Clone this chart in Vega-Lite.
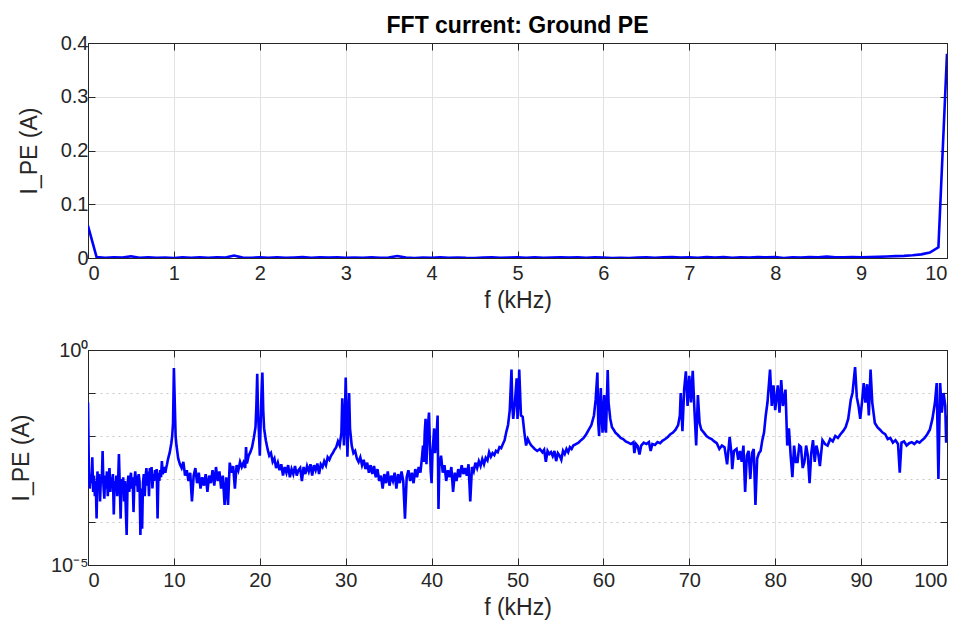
{
"$schema": "https://vega.github.io/schema/vega-lite/v6.json",
"padding": {"left": 9, "top": 14, "right": 20, "bottom": 5},
"background": "white",
"config": {
  "font": "Liberation Sans",
  "view": {"stroke": "#262626", "strokeWidth": 1},
  "axis": {"labelFontSize": 20, "titleFontSize": 23, "labelColor": "#262626", "titleColor": "#262626", "titleFontWeight": "normal", "domain": true, "domainWidth": 1, "domainOpacity": 1, "domainColor": "#262626", "tickColor": "#262626", "tickSize": -7, "tickWidth": 1, "labelPadding": 8, "gridColor": "#e2e2e2", "gridOpacity": 1, "labelFont": "Liberation Sans", "titleFont": "Liberation Sans"},
  "title": {"fontSize": 23, "fontWeight": "bold", "color": "#000000", "font": "Liberation Sans", "offset": -5}
},
"data": {"values": [
{"f":0,"I":0.06},{"f":0.1,"I":0.0016},{"f":0.2,"I":0.0006},{"f":0.3,"I":0.0012},{"f":0.4,"I":0.0008},{"f":0.5,"I":0.0032},{"f":0.6,"I":0.0005},{"f":0.7,"I":0.0012},{"f":0.8,"I":0.0004},{"f":0.9,"I":0.0009},
{"f":1.0,"I":0.00012},{"f":1.1,"I":0.0015},{"f":1.2,"I":0.0006},{"f":1.3,"I":0.0013},{"f":1.4,"I":0.0003},{"f":1.5,"I":0.0011},{"f":1.6,"I":0.0008},{"f":1.7,"I":0.0045},{"f":1.8,"I":0.0007},{"f":1.9,"I":0.00035},
{"f":2.0,"I":0.0012},{"f":2.1,"I":0.0006},{"f":2.2,"I":0.0015},{"f":2.3,"I":0.0004},{"f":2.4,"I":0.001},{"f":2.5,"I":0.0018},{"f":2.6,"I":0.0005},{"f":2.7,"I":0.0011},{"f":2.8,"I":0.0008},{"f":2.9,"I":0.0013},
{"f":3.0,"I":0.00015},{"f":3.1,"I":0.0009},{"f":3.2,"I":0.0006},{"f":3.3,"I":0.0012},{"f":3.4,"I":0.0004},{"f":3.5,"I":0.0008},{"f":3.6,"I":0.0038},{"f":3.7,"I":0.0007},{"f":3.8,"I":0.00012},{"f":3.9,"I":0.001},
{"f":4.0,"I":0.0005},{"f":4.1,"I":0.0011},{"f":4.2,"I":0.0003},{"f":4.3,"I":0.0009},{"f":4.4,"I":0.0002},{"f":4.5,"I":0.00005},{"f":4.6,"I":0.0007},{"f":4.7,"I":0.0012},{"f":4.8,"I":0.0005},{"f":4.9,"I":0.0009},
{"f":5.0,"I":0.0014},{"f":5.1,"I":0.0006},{"f":5.2,"I":0.0011},{"f":5.3,"I":0.00017},{"f":5.4,"I":0.0009},{"f":5.5,"I":0.0015},{"f":5.6,"I":0.0007},{"f":5.7,"I":0.0012},{"f":5.8,"I":0.0005},{"f":5.9,"I":0.0013},
{"f":6.0,"I":0.0009},{"f":6.1,"I":0.00005},{"f":6.2,"I":0.0006},{"f":6.3,"I":0.00007},{"f":6.4,"I":0.0008},{"f":6.5,"I":0.0013},{"f":6.6,"I":0.0004},{"f":6.7,"I":0.0011},{"f":6.8,"I":0.0018},{"f":6.9,"I":0.0007},
{"f":7.0,"I":0.0015},{"f":7.1,"I":0.0004},{"f":7.2,"I":0.0018},{"f":7.3,"I":0.001},{"f":7.4,"I":0.0019},{"f":7.5,"I":0.0006},{"f":7.6,"I":0.0013},{"f":7.7,"I":0.0009},{"f":7.8,"I":0.0016},{"f":7.9,"I":0.0011},
{"f":8.0,"I":0.0017},{"f":8.1,"I":0.00012},{"f":8.2,"I":0.0014},{"f":8.3,"I":0.0009},{"f":8.4,"I":0.0016},{"f":8.5,"I":0.0011},{"f":8.6,"I":0.0026},{"f":8.7,"I":0.0013},{"f":8.8,"I":0.0015},{"f":8.9,"I":0.0019},
{"f":9.0,"I":0.0014},{"f":9.1,"I":0.0018},{"f":9.2,"I":0.0022},{"f":9.3,"I":0.0028},{"f":9.4,"I":0.0034},{"f":9.5,"I":0.004},{"f":9.6,"I":0.0052},{"f":9.7,"I":0.0068},{"f":9.8,"I":0.01},{"f":9.9,"I":0.02},
{"f":10.0,"I":0.38},{"f":10.1,"I":0.06},{"f":10.2,"I":0.01},{"f":10.3,"I":0.006},{"f":10.5,"I":0.003},{"f":10.7,"I":0.0022},{"f":10.9,"I":0.0018},
{"f":11.1,"I":0.0025},{"f":11.3,"I":0.0012},{"f":11.5,"I":0.0016},{"f":11.7,"I":0.0009},{"f":11.9,"I":0.0014},{"f":12.1,"I":0.0003},{"f":12.3,"I":0.0012},{"f":12.5,"I":0.0018},{"f":12.7,"I":0.0008},{"f":12.9,"I":0.0014},
{"f":13.1,"I":0.0006},{"f":13.3,"I":0.0011},{"f":13.5,"I":0.0007},{"f":13.7,"I":0.0013},{"f":13.9,"I":0.0005},{"f":14.1,"I":0.0012},{"f":14.3,"I":0.0008},{"f":14.5,"I":0.0016},{"f":14.7,"I":0.0007},{"f":14.9,"I":0.0019},
{"f":15.1,"I":0.0009},{"f":15.3,"I":0.0015},{"f":15.5,"I":0.0006},{"f":15.7,"I":0.0012},{"f":15.9,"I":0.00025},{"f":16.1,"I":0.0011},{"f":16.3,"I":0.00025},{"f":16.5,"I":0.0024},{"f":16.7,"I":0.0014},{"f":16.9,"I":0.002},
{"f":17.1,"I":0.0006},{"f":17.3,"I":0.0021},{"f":17.5,"I":0.0016},{"f":17.7,"I":0.0025},{"f":17.9,"I":0.0019},{"f":18.1,"I":0.0024},{"f":18.3,"I":0.0018},{"f":18.4,"I":0.0055},{"f":18.5,"I":0.0023},{"f":18.7,"I":0.0035},{"f":18.9,"I":0.0042},
{"f":19.1,"I":0.0055},{"f":19.3,"I":0.009},{"f":19.5,"I":0.016},{"f":19.6,"I":0.05},{"f":19.7,"I":0.28},{"f":19.8,"I":0.03},{"f":19.9,"I":0.012},{"f":20.0,"I":0.0035},{"f":20.1,"I":0.02},{"f":20.2,"I":0.1},{"f":20.3,"I":0.3},{"f":20.4,"I":0.04},{"f":20.5,"I":0.015},{"f":20.7,"I":0.008},{"f":20.9,"I":0.005},
{"f":21.1,"I":0.0035},{"f":21.3,"I":0.004},{"f":21.5,"I":0.0025},{"f":21.7,"I":0.003},{"f":21.9,"I":0.0018},{"f":22.1,"I":0.0024},{"f":22.3,"I":0.0016},{"f":22.5,"I":0.0022},{"f":22.7,"I":0.0012},{"f":22.9,"I":0.0019},
{"f":23.1,"I":0.0014},{"f":23.3,"I":0.0021},{"f":23.5,"I":0.0011},{"f":23.7,"I":0.0017},{"f":23.9,"I":0.0013},{"f":24.1,"I":0.002},{"f":24.3,"I":0.0012},{"f":24.5,"I":0.0016},{"f":24.7,"I":0.0018},{"f":24.9,"I":0.0009},
{"f":25.1,"I":0.0019},{"f":25.3,"I":0.0013},{"f":25.5,"I":0.002},{"f":25.7,"I":0.0015},{"f":25.9,"I":0.0022},{"f":26.1,"I":0.0012},{"f":26.3,"I":0.0021},{"f":26.5,"I":0.0016},{"f":26.7,"I":0.0023},{"f":26.9,"I":0.0013},
{"f":27.1,"I":0.0022},{"f":27.3,"I":0.0019},{"f":27.5,"I":0.0026},{"f":27.7,"I":0.0021},{"f":27.9,"I":0.0032},{"f":28.1,"I":0.0028},{"f":28.3,"I":0.0035},{"f":28.5,"I":0.004},{"f":28.7,"I":0.0048},{"f":28.9,"I":0.0055},
{"f":29.1,"I":0.0075},{"f":29.3,"I":0.006},{"f":29.5,"I":0.012},{"f":29.6,"I":0.075},{"f":29.7,"I":0.02},{"f":29.8,"I":0.006},{"f":29.9,"I":0.025},{"f":30.0,"I":0.23},{"f":30.1,"I":0.03},{"f":30.2,"I":0.0033},{"f":30.3,"I":0.02},{"f":30.4,"I":0.1},{"f":30.5,"I":0.015},{"f":30.7,"I":0.006},{"f":30.9,"I":0.004},
{"f":31.1,"I":0.0045},{"f":31.3,"I":0.003},{"f":31.5,"I":0.0025},{"f":31.7,"I":0.0032},{"f":31.9,"I":0.0021},{"f":32.1,"I":0.0028},{"f":32.3,"I":0.0017},{"f":32.5,"I":0.0024},{"f":32.7,"I":0.0014},{"f":32.9,"I":0.0021},
{"f":33.1,"I":0.0013},{"f":33.3,"I":0.002},{"f":33.5,"I":0.0011},{"f":33.7,"I":0.0017},{"f":33.9,"I":0.0009},{"f":34.1,"I":0.0012},{"f":34.3,"I":0.0006},{"f":34.5,"I":0.0013},{"f":34.7,"I":0.0008},{"f":34.9,"I":0.0015},
{"f":35.1,"I":0.0007},{"f":35.3,"I":0.0012},{"f":35.5,"I":0.0009},{"f":35.7,"I":0.0014},{"f":35.9,"I":0.0006},{"f":36.1,"I":0.0013},{"f":36.3,"I":0.0008},{"f":36.5,"I":0.0015},{"f":36.7,"I":0.0009},{"f":36.9,"I":0.00012},
{"f":37.1,"I":0.0011},{"f":37.3,"I":0.0016},{"f":37.5,"I":0.0009},{"f":37.7,"I":0.0014},{"f":37.9,"I":0.0008},{"f":38.1,"I":0.0017},{"f":38.3,"I":0.0011},{"f":38.5,"I":0.0019},{"f":38.7,"I":0.0014},{"f":38.9,"I":0.0035},
{"f":39.0,"I":0.006},{"f":39.1,"I":0.0025},{"f":39.2,"I":0.012},{"f":39.3,"I":0.025},{"f":39.4,"I":0.0022},{"f":39.5,"I":0.008},{"f":39.6,"I":0.02},{"f":39.7,"I":0.035},{"f":39.8,"I":0.006},{"f":39.9,"I":0.0015},
{"f":40.0,"I":0.0008},{"f":40.1,"I":0.004},{"f":40.3,"I":0.015},{"f":40.4,"I":0.004},{"f":40.6,"I":0.012},{"f":40.7,"I":0.03},{"f":40.8,"I":0.0002},{"f":40.9,"I":0.002},
{"f":41.1,"I":0.0035},{"f":41.3,"I":0.0014},{"f":41.5,"I":0.0021},{"f":41.7,"I":0.0009},{"f":41.9,"I":0.0016},{"f":42.1,"I":0.0011},{"f":42.3,"I":0.0019},{"f":42.5,"I":0.0005},{"f":42.7,"I":0.0014},{"f":42.9,"I":0.0009},
{"f":43.1,"I":0.0017},{"f":43.3,"I":0.0011},{"f":43.5,"I":0.0021},{"f":43.7,"I":0.0013},{"f":43.9,"I":0.0018},{"f":44.1,"I":0.0012},{"f":44.3,"I":0.0022},{"f":44.5,"I":0.0003},{"f":44.7,"I":0.0019},{"f":44.9,"I":0.0015},
{"f":45.1,"I":0.0024},{"f":45.3,"I":0.0018},{"f":45.5,"I":0.0026},{"f":45.7,"I":0.002},{"f":45.9,"I":0.0029},{"f":46.1,"I":0.0022},{"f":46.3,"I":0.0031},{"f":46.5,"I":0.0027},{"f":46.7,"I":0.0042},{"f":46.9,"I":0.0033},
{"f":47.1,"I":0.004},{"f":47.3,"I":0.0036},{"f":47.5,"I":0.0045},{"f":47.7,"I":0.0042},{"f":47.9,"I":0.0055},{"f":48.1,"I":0.0052},{"f":48.3,"I":0.0065},{"f":48.5,"I":0.008},{"f":48.7,"I":0.0125},{"f":48.9,"I":0.018},
{"f":49.1,"I":0.04},{"f":49.3,"I":0.35},{"f":49.4,"I":0.05},{"f":49.5,"I":0.025},{"f":49.7,"I":0.06},{"f":49.9,"I":0.22},{"f":50.0,"I":0.025},{"f":50.1,"I":0.06},{"f":50.2,"I":0.35},{"f":50.4,"I":0.03},{"f":50.6,"I":0.028},{"f":50.8,"I":0.012},
{"f":51.0,"I":0.006},{"f":51.2,"I":0.0085},{"f":51.4,"I":0.007},{"f":51.6,"I":0.006},{"f":51.8,"I":0.0055},{"f":52.0,"I":0.005},{"f":52.3,"I":0.0045},{"f":52.6,"I":0.005},{"f":52.9,"I":0.0042},{"f":53.1,"I":0.0048},
{"f":53.3,"I":0.0025},{"f":53.5,"I":0.0045},{"f":53.7,"I":0.0038},{"f":53.9,"I":0.0042},{"f":54.1,"I":0.0034},{"f":54.3,"I":0.0045},{"f":54.5,"I":0.0026},{"f":54.7,"I":0.004},{"f":54.9,"I":0.0035},{"f":55.1,"I":0.0028},
{"f":55.3,"I":0.0045},{"f":55.5,"I":0.0038},{"f":55.7,"I":0.005},{"f":55.9,"I":0.0042},{"f":56.1,"I":0.0055},{"f":56.3,"I":0.005},{"f":56.5,"I":0.006},{"f":56.8,"I":0.0065},{"f":57.1,"I":0.007},{"f":57.4,"I":0.008},
{"f":57.7,"I":0.009},{"f":58.0,"I":0.011},{"f":58.3,"I":0.014},{"f":58.6,"I":0.018},{"f":58.9,"I":0.03},{"f":59.1,"I":0.07},{"f":59.3,"I":0.3},{"f":59.4,"I":0.02},{"f":59.5,"I":0.01},{"f":59.6,"I":0.05},
{"f":59.7,"I":0.13},{"f":59.8,"I":0.03},{"f":59.9,"I":0.012},{"f":60.0,"I":0.04},{"f":60.1,"I":0.09},{"f":60.2,"I":0.015},{"f":60.3,"I":0.012},{"f":60.4,"I":0.06},{"f":60.5,"I":0.34},{"f":60.6,"I":0.06},
{"f":60.8,"I":0.025},{"f":61.0,"I":0.016},{"f":61.2,"I":0.014},{"f":61.4,"I":0.012},{"f":61.6,"I":0.011},{"f":61.8,"I":0.01},{"f":62.0,"I":0.009},{"f":62.3,"I":0.0085},{"f":62.6,"I":0.0075},{"f":62.9,"I":0.007},
{"f":63.2,"I":0.0065},{"f":63.5,"I":0.0072},{"f":63.6,"I":0.004},{"f":63.8,"I":0.0065},{"f":64.0,"I":0.0058},{"f":64.2,"I":0.0037},{"f":64.4,"I":0.006},{"f":64.7,"I":0.007},{"f":65.0,"I":0.0065},{"f":65.3,"I":0.0072},
{"f":65.5,"I":0.0045},{"f":65.7,"I":0.0065},{"f":66.0,"I":0.0062},{"f":66.3,"I":0.0072},{"f":66.6,"I":0.0068},{"f":66.9,"I":0.0078},{"f":67.2,"I":0.0085},{"f":67.5,"I":0.0095},{"f":67.8,"I":0.011},{"f":68.1,"I":0.012},
{"f":68.4,"I":0.014},{"f":68.7,"I":0.018},{"f":68.9,"I":0.03},{"f":69.0,"I":0.1},{"f":69.2,"I":0.013},{"f":69.4,"I":0.12},{"f":69.6,"I":0.32},{"f":69.8,"I":0.05},{"f":70.0,"I":0.25},{"f":70.2,"I":0.06},
{"f":70.4,"I":0.33},{"f":70.6,"I":0.04},{"f":70.8,"I":0.006},{"f":71.0,"I":0.09},{"f":71.2,"I":0.02},{"f":71.4,"I":0.014},{"f":71.7,"I":0.012},{"f":72.0,"I":0.01},{"f":72.3,"I":0.009},{"f":72.6,"I":0.0085},
{"f":72.9,"I":0.0075},{"f":73.2,"I":0.0068},{"f":73.5,"I":0.005},{"f":73.8,"I":0.006},{"f":74.1,"I":0.0055},{"f":74.4,"I":0.0022},{"f":74.7,"I":0.0095},{"f":74.9,"I":0.004},{"f":75.0,"I":0.0017},{"f":75.2,"I":0.0045},
{"f":75.5,"I":0.005},{"f":75.7,"I":0.0028},{"f":75.9,"I":0.0045},{"f":76.1,"I":0.0025},{"f":76.3,"I":0.006},{"f":76.5,"I":0.0005},{"f":76.7,"I":0.0035},{"f":76.9,"I":0.0045},{"f":77.1,"I":0.001},{"f":77.3,"I":0.004},
{"f":77.5,"I":0.005},{"f":77.7,"I":0.00025},{"f":77.9,"I":0.003},{"f":78.1,"I":0.004},{"f":78.3,"I":0.0045},{"f":78.5,"I":0.008},{"f":78.7,"I":0.012},{"f":78.9,"I":0.03},{"f":79.1,"I":0.06},{"f":79.4,"I":0.35},
{"f":79.6,"I":0.05},{"f":79.8,"I":0.15},{"f":80.0,"I":0.04},{"f":80.3,"I":0.15},{"f":80.5,"I":0.035},{"f":80.7,"I":0.2},{"f":80.9,"I":0.05},{"f":81.2,"I":0.12},{"f":81.4,"I":0.006},{"f":81.6,"I":0.015},
{"f":81.8,"I":0.0035},{"f":82.0,"I":0.0011},{"f":82.2,"I":0.006},{"f":82.4,"I":0.0025},{"f":82.6,"I":0.0025},{"f":82.8,"I":0.006},{"f":83.0,"I":0.0055},{"f":83.2,"I":0.0018},{"f":83.4,"I":0.0025},{"f":83.6,"I":0.006},
{"f":83.8,"I":0.0035},{"f":84.0,"I":0.0008},{"f":84.2,"I":0.004},{"f":84.4,"I":0.008},{"f":84.6,"I":0.0025},{"f":84.8,"I":0.006},{"f":85.0,"I":0.004},{"f":85.2,"I":0.002},{"f":85.5,"I":0.008},{"f":85.8,"I":0.0065},
{"f":86.1,"I":0.006},{"f":86.4,"I":0.0085},{"f":86.7,"I":0.0075},{"f":87.0,"I":0.01},{"f":87.3,"I":0.009},{"f":87.6,"I":0.011},{"f":87.9,"I":0.013},{"f":88.2,"I":0.016},{"f":88.5,"I":0.025},{"f":88.8,"I":0.07},
{"f":89.0,"I":0.1},{"f":89.3,"I":0.4},{"f":89.5,"I":0.08},{"f":89.7,"I":0.05},{"f":89.9,"I":0.025},{"f":90.1,"I":0.06},{"f":90.3,"I":0.17},{"f":90.5,"I":0.06},{"f":90.7,"I":0.16},{"f":90.9,"I":0.03},
{"f":91.1,"I":0.35},{"f":91.3,"I":0.06},{"f":91.6,"I":0.02},{"f":91.9,"I":0.016},{"f":92.2,"I":0.014},{"f":92.5,"I":0.012},{"f":92.8,"I":0.011},{"f":93.1,"I":0.0085},{"f":93.4,"I":0.009},{"f":93.7,"I":0.007},
{"f":94.0,"I":0.008},{"f":94.3,"I":0.0065},{"f":94.5,"I":0.0014},{"f":94.7,"I":0.007},{"f":95.0,"I":0.0075},{"f":95.3,"I":0.006},{"f":95.6,"I":0.0068},{"f":95.9,"I":0.0072},{"f":96.2,"I":0.0065},{"f":96.5,"I":0.0075},
{"f":96.8,"I":0.007},{"f":97.1,"I":0.008},{"f":97.4,"I":0.009},{"f":97.7,"I":0.011},{"f":98.0,"I":0.014},{"f":98.3,"I":0.025},{"f":98.6,"I":0.06},{"f":98.8,"I":0.17},{"f":99.0,"I":0.001},{"f":99.2,"I":0.17},
{"f":99.4,"I":0.035},{"f":99.6,"I":0.1},{"f":99.8,"I":0.05},{"f":99.9,"I":0.007},{"f":100.0,"I":0.03}
]},
"spacing": 26,
"vconcat": [
  {
    "title": "FFT current: Ground PE",
    "width": 859, "height": 215,
    "transform": [{"filter": "datum.f <= 10"}],
    "layer": [
      {
        "mark": {"type": "line", "color": "#0000ff", "strokeWidth": 2.6, "clip": true},
        "encoding": {
          "x": {"field": "f", "type": "quantitative", "scale": {"domain": [0, 10], "nice": false},
                "axis": {"values": [0,1,2,3,4,5,6,7,8,9,10], "format": "d", "title": "f (kHz)", "titlePadding": 6, "labelPadding": 12,
                         "gridOpacity": {"condition": {"test": "datum.value >= 10 || datum.value <= 0", "value": 0}, "value": 1}}},
          "y": {"field": "I", "type": "quantitative", "scale": {"domain": [0, 0.4], "nice": false},
                "axis": {"values": [0, 0.1, 0.2, 0.3, 0.4], "format": "~g", "title": "I_PE (A)", "titlePadding": 19, "labelPadding": 7,
                         "gridOpacity": {"condition": {"test": "datum.value >= 0.4 || datum.value <= 0", "value": 0}, "value": 1}}}
        }
      },
      {
        "mark": {"type": "line", "opacity": 0},
        "encoding": {
          "x": {"field": "f", "type": "quantitative", "scale": {"domain": [0, 10], "nice": false},
                "axis": {"orient": "top", "values": [0,1,2,3,4,5,6,7,8,9,10], "labels": false, "title": null, "grid": false}},
          "y": {"field": "I", "type": "quantitative", "scale": {"domain": [0, 0.4], "nice": false},
                "axis": {"orient": "right", "values": [0, 0.1, 0.2, 0.3, 0.4], "labels": false, "title": null, "grid": false}}
        }
      }
    ],
    "resolve": {"axis": {"x": "independent", "y": "independent"}}
  },
  {
    "width": 859, "height": 215,
    "layer": [
      {
        "mark": {"type": "line", "color": "#0000ff", "strokeWidth": 2.6, "clip": true},
        "encoding": {
          "x": {"field": "f", "type": "quantitative", "scale": {"domain": [0, 100], "nice": false},
                "axis": {"values": [0,10,20,30,40,50,60,70,80,90,100], "format": "d", "title": "f (kHz)", "titlePadding": 6, "labelPadding": 12,
                         "gridOpacity": {"condition": {"test": "datum.value >= 100 || datum.value <= 0", "value": 0}, "value": 1}}},
          "y": {"field": "I", "type": "quantitative", "scale": {"type": "log", "domain": [0.00001, 1], "nice": false},
                "axis": {"values": [0.00001, 0.0001, 0.001, 0.01, 0.1, 1], "labelExpr": "datum.value >= 0.5 ? '10⁰' : (datum.value < 0.00002 ? '10⁻⁵' : '')", "labelPadding": 7,
                         "gridDash": [2, 4], "gridColor": "#c8c8c8", "title": "I_PE (A)", "titlePadding": 17,
                         "gridOpacity": {"condition": {"test": "datum.value >= 0.5 || datum.value < 0.00002", "value": 0}, "value": 1}}}
        }
      },
      {
        "mark": {"type": "line", "opacity": 0},
        "encoding": {
          "x": {"field": "f", "type": "quantitative", "scale": {"domain": [0, 100], "nice": false},
                "axis": {"orient": "top", "values": [0,10,20,30,40,50,60,70,80,90,100], "labels": false, "title": null, "grid": false}},
          "y": {"field": "I", "type": "quantitative", "scale": {"type": "log", "domain": [0.00001, 1], "nice": false},
                "axis": {"orient": "right", "values": [0.00001, 0.0001, 0.001, 0.01, 0.1, 1], "labels": false, "title": null, "grid": false}}
        }
      }
    ],
    "resolve": {"axis": {"x": "independent", "y": "independent"}}
  }
]
}
